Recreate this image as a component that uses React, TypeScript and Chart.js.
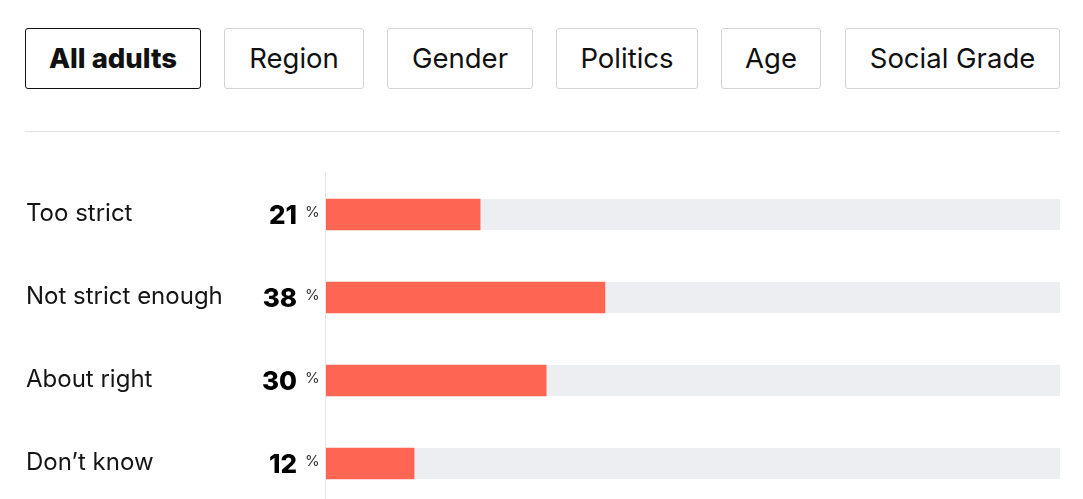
import React, { useEffect, useRef } from "react";
import { Chart, registerables } from "chart.js";

Chart.register(...registerables);

const TABS = ["All adults", "Region", "Gender", "Politics", "Age", "Social Grade"];
const TAB_LEFT = [25, 224, 387, 556, 721, 845];
const TAB_RIGHT = [201, 364, 533, 698, 821, 1060];
const ACTIVE_TAB = 0;

const CATEGORIES = ["Too strict", "Not strict enough", "About right", "Don\u2019t know"];
const VALUES = [21, 38, 30, 12];
const AXIS_MAX = 100;

const FONT = "Inter, 'Noto Sans', sans-serif";

const overlayPlugin = {
  id: "overlay",
  beforeDatasetsDraw(chart: any) {
    const { ctx, chartArea } = chart;
    const meta = chart.getDatasetMeta(0);
    ctx.save();
    // vertical divider
    ctx.fillStyle = "#e4e4e4";
    ctx.fillRect(chartArea.left - 1, 0, 1, chart.height);
    // tracks
    ctx.fillStyle = "#edeef1";
    meta.data.forEach((bar: any) => {
      const h = bar.height;
      ctx.fillRect(chartArea.left, bar.y - h / 2, chartArea.right - chartArea.left, h);
    });
    ctx.restore();
  },
  afterDatasetsDraw(chart: any) {
    const { ctx } = chart;
    const yScale = chart.scales.y;
    ctx.save();
    CATEGORIES.forEach((label, i) => {
      const y = yScale.getPixelForValue(i);
      ctx.fillStyle = "#151515";
      ctx.font = `400 24px ${FONT}`;
      ctx.textAlign = "left";
      ctx.textBaseline = "alphabetic";
      ctx.fillText(label, 26, y + 6);
      ctx.fillStyle = "#000";
      ctx.font = `800 26px ${FONT}`;
      ctx.textAlign = "right";
      ctx.fillText(String(VALUES[i]), 297, y + 9);
      ctx.font = `400 15px ${FONT}`;
      ctx.textAlign = "left";
      ctx.fillStyle = "#333";
      ctx.fillText("%", 305, y + 2);
    });
    ctx.restore();
  },
};

function BarChart() {
  const ref = useRef<HTMLCanvasElement>(null);
  useEffect(() => {
    const chart = new Chart(ref.current!, {
      type: "bar",
      data: {
        labels: CATEGORIES,
        datasets: [
          {
            data: VALUES,
            backgroundColor: "#ff6553",
            borderWidth: 0,
            barThickness: 31,
          },
        ],
      },
      options: {
        indexAxis: "y",
        animation: false,
        responsive: false,
        maintainAspectRatio: false,
        layout: { padding: { left: 326, right: 23, top: 1, bottom: 7 } },
        scales: {
          x: { display: false, min: 0, max: AXIS_MAX },
          y: { display: false, offset: true },
        },
        plugins: { legend: { display: false }, tooltip: { enabled: false } },
      },
      plugins: [overlayPlugin],
    });
    return () => chart.destroy();
  }, []);
  return (
    <canvas
      ref={ref}
      width={1083}
      height={340}
      style={{ position: "absolute", left: 0, top: 172, width: 1083, height: 340 }}
    />
  );
}

export default function App() {
  return (
    <div
      style={{
        position: "fixed",
        left: 0,
        top: 0,
        width: 1083,
        height: 499,
        overflow: "hidden",
        background: "#fff",
        fontFamily: FONT,
      }}
    >
      {TABS.map((t, i) => (
        <div
          key={t}
          style={{
            position: "absolute",
            left: TAB_LEFT[i],
            top: 28,
            width: TAB_RIGHT[i] - TAB_LEFT[i],
            height: 61,
            boxSizing: "border-box",
            border: i === ACTIVE_TAB ? "1px solid #111" : "1px solid #d4d4d4",
            borderRadius: 3,
            display: "flex",
            alignItems: "center",
            justifyContent: "center",
            fontSize: 27.5,
            fontWeight: i === ACTIVE_TAB ? 800 : 400,
            color: "#111",
            paddingBottom: 1,
          }}
        >
          {t}
        </div>
      ))}
      <div
        style={{
          position: "absolute",
          left: 25,
          top: 131,
          width: 1035,
          height: 1,
          background: "#e2e2e2",
        }}
      />
      <BarChart />
    </div>
  );
}
